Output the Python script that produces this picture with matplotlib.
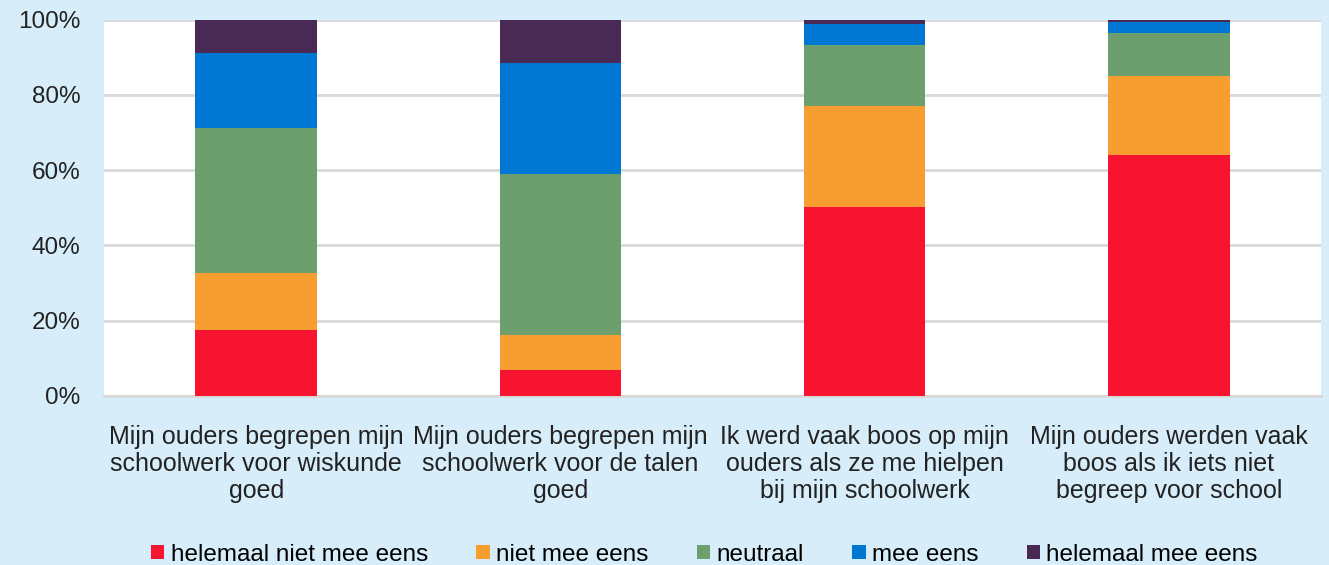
import numpy as np
import matplotlib.pyplot as plt

plt.rcParams['font.family'] = ['Liberation Sans', 'DejaVu Sans']

categories = [
    "Mijn ouders begrepen mijn\nschoolwerk voor wiskunde\ngoed",
    "Mijn ouders begrepen mijn\nschoolwerk voor de talen\ngoed",
    "Ik werd vaak boos op mijn\nouders als ze me hielpen\nbij mijn schoolwerk",
    "Mijn ouders werden vaak\nboos als ik iets niet\nbegreep voor school",
]
series_names = ["helemaal niet mee eens", "niet mee eens", "neutraal",
                "mee eens", "helemaal mee eens"]
helemaal_niet = [17.6, 6.9, 50.1, 64.0]
niet = [15.1, 9.2, 26.9, 20.9]
neutraal = [38.4, 42.8, 16.3, 11.5]
mee = [19.9, 29.6, 5.5, 2.9]
helemaal = [9.0, 11.5, 1.2, 0.7]
colors = ["#F71431", "#F89D2F", "#6D9E6E", "#0078D3", "#482A55"]

bg = "#D7EEFA"
fig = plt.figure(figsize=(13.29, 5.65), dpi=100, facecolor=bg)
ax = fig.add_axes([104 / 1329, 1 - 396 / 565, 1217 / 1329, 376.5 / 565])
ax.set_facecolor("white")

x = np.arange(len(categories))
bottom = np.zeros(len(categories))
for name, vals, c in zip(series_names,
                         [helemaal_niet, niet, neutraal, mee, helemaal], colors):
    ax.bar(x, vals, 0.4, bottom=bottom, color=c, label=name, zorder=3)
    bottom += np.array(vals)

ax.set_xlim(-0.5, 3.5)
ax.set_ylim(0, 100)
ax.set_yticks(np.arange(0, 101, 20))
ax.set_yticklabels([f"{v}%" for v in range(0, 101, 20)], fontsize=17.5, color="#222222")
ax.set_xticks(x)
ax.set_xticklabels(categories, fontsize=18, color="#222222", linespacing=1.15)
ax.tick_params(axis="both", length=0)
ax.tick_params(axis="x", pad=21)
ax.tick_params(axis="y", pad=17)
ax.grid(axis="y", color="#D9D9D9", linewidth=2, zorder=0)
ax.set_axisbelow(True)
for s in ["top", "right", "left"]:
    ax.spines[s].set_visible(False)
ax.spines["bottom"].set_color("#D9D9D9")
ax.spines["bottom"].set_linewidth(2)

fig.legend(loc="lower center", bbox_to_anchor=(0.53, -0.04), ncol=5, frameon=False,
           fontsize=17.5, handlelength=0.55, handleheight=0.55, handletextpad=0.25,
           columnspacing=2.0)

fig.savefig("out.png", dpi=100, facecolor=bg)
